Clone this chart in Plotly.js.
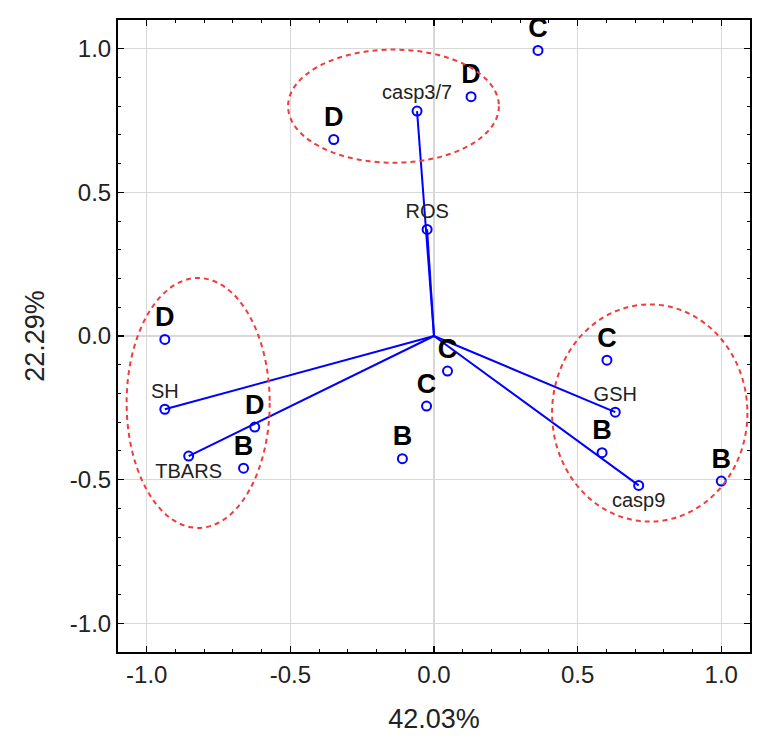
<!DOCTYPE html>
<html>
<head>
<meta charset="utf-8">
<script src="https://cdn.plot.ly/plotly-3.0.1.min.js"></script>
<style>html,body{margin:0;padding:0;background:#fff;}#chart{width:777px;height:745px;}</style>
</head>
<body>
<div id="chart"></div>
<script>
// Case (observation) points
const caseLabels = ['D','D','D','D','C','C','C','C','B','B','B','B'];
const caseX = [-0.937,-0.624,-0.349,0.129, 0.362,0.047,-0.026,0.602, -0.663,-0.110,0.585,1.000];
const caseY = [-0.012,-0.317,0.684,0.833, 0.994,-0.122,-0.244,-0.084, -0.460,-0.427,-0.406,-0.505];

// Variable vectors
const varLabels = ['SH','TBARS','casp3/7','ROS','GSH','casp9'];
const varX = [-0.937,-0.854,-0.059,-0.024,0.631,0.7125];
const varY = [-0.255,-0.418,0.783,0.371,-0.265,-0.520];

// Group ellipses: [centerX, centerY, radiusX, radiusY]
const groupCX = [-0.821,-0.141,0.751];
const groupCY = [-0.233,0.800,-0.268];
const groupRX = [0.249,0.367,0.340];
const groupRY = [0.435,0.197,0.378];

// Axis ticks
const tickVals = [-1.0,-0.5,0.0,0.5,1.0];
const tickText = ['-1.0','-0.5','0.0','0.5','1.0'];
const xTitle = '42.03%';
const yTitle = '22.29%';

const blue = '#0000ff';
const red = '#f03c3c';

// vectors from origin
const lx = [], ly = [];
varX.forEach((x,i)=>{ lx.push(0, x, null); ly.push(0, varY[i], null); });

const varTextPos = ['top center','bottom center','top center','top center','top center','bottom center'];

const traces = [
  {x: lx, y: ly, mode:'lines', line:{color:blue, width:2}, hoverinfo:'skip', showlegend:false},
  {x: varX, y: varY, mode:'markers+text', text: varLabels, textposition: varTextPos,
   textfont:{family:'Liberation Sans, Arial, sans-serif', size:20, color:'#222'},
   marker:{symbol:'circle-open', size:9, color:blue, line:{width:2, color:blue}}, showlegend:false},
  {x: caseX, y: caseY, mode:'markers+text', text: caseLabels, textposition:'top center',
   textfont:{family:'Liberation Sans, Arial, sans-serif', size:27, color:'#000', weight:'bold'},
   marker:{symbol:'circle-open', size:9, color:blue, line:{width:2, color:blue}}, showlegend:false}
];

const shapes = [
  {type:'line', xref:'paper', x0:0, x1:1, yref:'y', y0:0, y1:0, line:{color:red, width:2}, layer:'below'}
];
groupCX.forEach((cx,i)=>{
  shapes.push({type:'circle', xref:'x', yref:'y', x0:cx-groupRX[i], x1:cx+groupRX[i],
    y0:groupCY[i]-groupRY[i], y1:groupCY[i]+groupRY[i], line:{color:red, width:2, dash:'5px,4px'}});
});

const axisCommon = {
  range:[-1.1,1.1], tickmode:'array', tickvals: tickVals, ticktext: tickText,
  ticks:'inside', ticklen:6, tickwidth:1.5, tickcolor:'#000',
  showline:true, linecolor:'#000', linewidth:2, mirror:'ticks',
  showgrid:true, gridcolor:'#d8d8d8', gridwidth:1.5, zeroline:false,
  minor:{ticks:'inside', ticklen:3, tickwidth:1, tickcolor:'#000', dtick:0.1, tick0:0, showgrid:false},
  tickfont:{family:'Liberation Sans, Arial, sans-serif', size:24, color:'#222'},
  automargin:false
};

const layout = {
  width:777, height:745,
  margin:{l:118, r:27, t:20, b:93},
  paper_bgcolor:'#fff', plot_bgcolor:'#fff',
  xaxis: Object.assign({}, axisCommon, {title:{text:xTitle, standoff:22, font:{family:'Liberation Sans, Arial, sans-serif', size:27, color:'#222'}}}),
  yaxis: Object.assign({}, axisCommon, {title:{text:yTitle, standoff:17, font:{family:'Liberation Sans, Arial, sans-serif', size:27, color:'#222'}}}),
  shapes: shapes,
  showlegend:false
};

Plotly.newPlot('chart', traces, layout, {displayModeBar:false, staticPlot:true});
</script>
</body>
</html>
